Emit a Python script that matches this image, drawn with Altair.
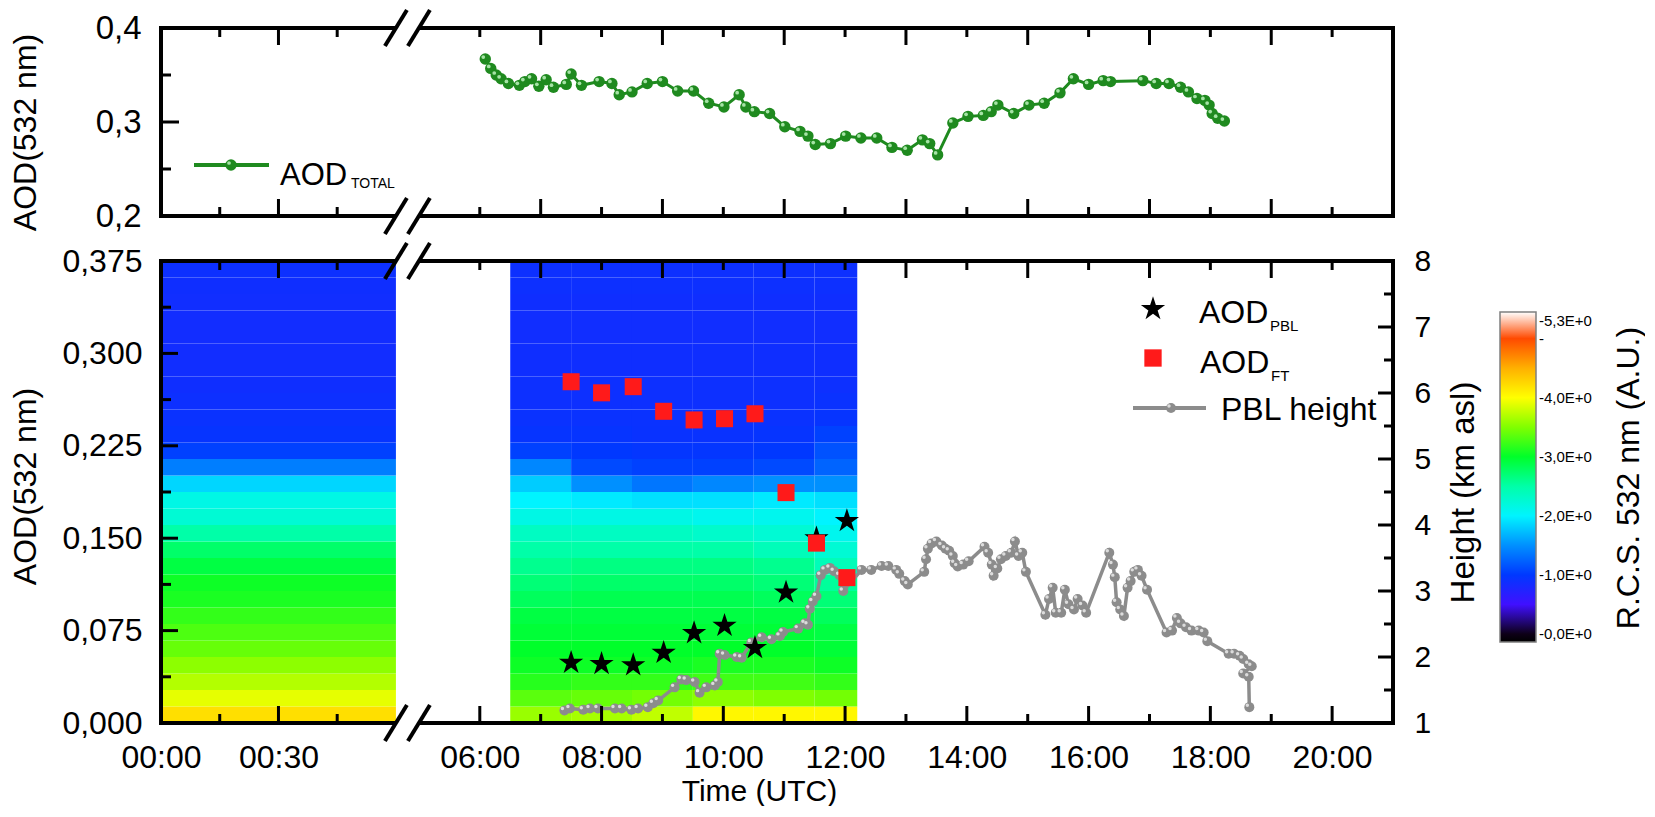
import altair as alt
import pandas as pd

FONT = "Liberation Sans"

# ---------------- data (time in decimal hours UTC) ----------------
AOD_TOTAL_T = [6.09, 6.18, 6.27, 6.35, 6.47, 6.65, 6.74, 6.85, 6.97, 7.09, 7.21,
               7.42, 7.50, 7.67, 7.96, 8.17, 8.29, 8.50, 8.75, 9.00,
               9.25, 9.51, 9.76, 10.01, 10.26, 10.37, 10.51, 10.76, 11.01, 11.26,
               11.39, 11.51, 11.76, 12.01, 12.26, 12.52, 12.77, 13.02, 13.27, 13.39,
               13.52, 13.77, 14.02, 14.27, 14.40, 14.51, 14.77, 15.02, 15.27, 15.53,
               15.75, 16.00, 16.24, 16.36, 16.89, 17.11, 17.32, 17.51, 17.64, 17.78,
               17.91, 17.98, 18.03, 18.12, 18.23]
AOD_TOTAL_V = [0.367, 0.357, 0.350, 0.346, 0.341, 0.339, 0.343, 0.346, 0.338, 0.345, 0.337,
               0.340, 0.351, 0.339, 0.343, 0.341, 0.329, 0.332, 0.341, 0.343,
               0.333, 0.333, 0.320, 0.316, 0.329, 0.316, 0.311, 0.309, 0.295, 0.290,
               0.285, 0.276, 0.277, 0.285, 0.283, 0.283, 0.273, 0.270, 0.281, 0.277,
               0.265, 0.299, 0.306, 0.307, 0.311, 0.318, 0.309, 0.318, 0.320, 0.331,
               0.346, 0.340, 0.344, 0.343, 0.344, 0.341, 0.341, 0.337, 0.332, 0.325,
               0.323, 0.318, 0.309, 0.304, 0.301]

PBL_T = [7.39, 7.48, 7.70, 7.81, 7.94, 8.22, 8.33, 8.49, 8.60, 8.76,
         8.85, 8.93, 9.20, 9.31, 9.39, 9.53, 9.61, 9.72, 9.86, 9.91,
         9.94, 10.02, 10.22, 10.30, 10.46, 10.63, 10.79, 10.93, 10.98, 11.23,
         11.34, 11.39, 11.42, 11.47, 11.53, 11.60, 11.67, 11.75, 11.82, 11.91,
         11.97, 12.27, 12.43, 12.60, 12.71, 12.84, 12.89, 12.98, 13.03, 13.30,
         13.33, 13.36, 13.42, 13.50, 13.59, 13.65, 13.71, 13.77, 13.80, 13.85,
         13.94, 14.03, 14.29, 14.35, 14.41, 14.44, 14.50, 14.56, 14.64, 14.73,
         14.79, 14.85, 14.91, 14.97, 15.29, 15.35, 15.41, 15.46, 15.55, 15.61,
         15.67, 15.76, 15.82, 15.90, 15.96, 16.34, 16.40, 16.43, 16.46, 16.52,
         16.58, 16.64, 16.69, 16.75, 16.81, 16.87, 16.96, 17.28, 17.37, 17.45,
         17.51, 17.60, 17.69, 17.81, 17.89, 17.95, 18.30, 18.39, 18.48, 18.54,
         18.63, 18.68, 18.54, 18.63, 18.64]
PBL_H = [1.19, 1.22, 1.20, 1.22, 1.22, 1.22, 1.22, 1.20, 1.22, 1.24,
         1.30, 1.34, 1.54, 1.66, 1.65, 1.62, 1.46, 1.54, 1.57, 1.62,
         2.05, 2.03, 2.00, 1.99, 2.22, 2.30, 2.27, 2.32, 2.38, 2.43,
         2.51, 2.49, 2.73, 2.84, 2.92, 3.24, 3.32, 3.35, 3.30, 3.24,
         3.00, 3.32, 3.32, 3.38, 3.38, 3.32, 3.26, 3.15, 3.10, 3.29,
         3.48, 3.64, 3.72, 3.75, 3.69, 3.64, 3.61, 3.53, 3.42, 3.37,
         3.40, 3.45, 3.67, 3.58, 3.40, 3.23, 3.34, 3.48, 3.53, 3.58,
         3.75, 3.53, 3.58, 3.29, 2.64, 2.88, 3.05, 2.67, 2.67, 3.02,
         2.80, 2.72, 2.88, 2.78, 2.67, 3.58, 3.40, 3.21, 2.83, 2.72,
         2.62, 3.05, 3.15, 3.29, 3.32, 3.23, 3.02, 2.37, 2.40, 2.59,
         2.51, 2.45, 2.40, 2.40, 2.37, 2.24, 2.05, 2.05, 2.02, 1.97,
         1.89, 1.86, 1.75, 1.70, 1.24]

LAYER_T = [7.50, 8.00, 8.52, 9.02, 9.52, 10.02, 10.52, 11.03, 11.53, 12.03]
AOD_PBL = [0.049, 0.048, 0.047, 0.057, 0.073, 0.079, 0.061, 0.106, 0.150, 0.164]
AOD_FT = [0.277, 0.268, 0.273, 0.253, 0.246, 0.247, 0.251, 0.187, 0.146, 0.118]

# lidar range corrected signal: columns (time spans) x height bins (km asl)
HEAT_T0 = [0.0, 6.5, 7.5, 8.5, 9.5, 10.5, 11.5]
HEAT_T1 = [1.0, 7.5, 8.5, 9.5, 10.5, 11.5, 12.2]
HEAT_H0 = [1.0, 1.25, 1.5, 1.75, 2.0, 2.25, 2.5, 2.75, 3.0, 3.25, 3.5, 3.75, 4.0, 4.25,
           4.5, 4.75, 5.0, 5.25, 5.5, 5.75, 6.0, 6.25, 6.5, 6.75, 7.0, 7.25, 7.5, 7.75]
HEAT_H1 = HEAT_H0[1:] + [8.0]
RCS_00 = [4.2, 3.9, 3.7, 3.55, 3.4, 3.3, 3.2, 3.1, 3.05, 2.9, 2.75, 2.5, 2.25, 2.15,
          1.85, 1.4, 1.05, 0.95, 0.92, 0.9, 0.88, 0.87, 0.86, 0.86, 0.86, 0.87, 0.88, 0.9]
RCS_07 = [3.6, 3.35, 3.15, 3.05, 3.0, 2.95, 2.9, 2.8, 2.7, 2.6, 2.5, 2.35, 2.15, 2.0,
          1.8, 1.45, 1.05, 0.95, 0.92, 0.9, 0.9, 0.88, 0.88, 0.87, 0.87, 0.88, 0.9, 0.9]
RCS_08 = [3.65, 3.4, 3.2, 3.05, 3.0, 2.95, 2.9, 2.85, 2.75, 2.65, 2.5, 2.35, 2.15, 1.95,
          1.5, 1.1, 1.0, 0.95, 0.92, 0.9, 0.9, 0.88, 0.88, 0.87, 0.87, 0.88, 0.9, 0.9]
RCS_09 = [3.75, 3.45, 3.2, 3.05, 3.0, 2.95, 2.9, 2.85, 2.75, 2.65, 2.5, 2.35, 2.15, 1.9,
          1.35, 1.05, 0.97, 0.93, 0.92, 0.9, 0.9, 0.88, 0.88, 0.87, 0.87, 0.88, 0.9, 0.9]
RCS_10 = [4.05, 3.55, 3.25, 3.1, 3.0, 2.95, 2.9, 2.85, 2.75, 2.65, 2.5, 2.3, 2.1, 1.9,
          1.45, 1.05, 0.97, 0.93, 0.92, 0.9, 0.9, 0.88, 0.88, 0.87, 0.87, 0.88, 0.9, 0.9]
RCS_11 = [4.05, 3.5, 3.25, 3.1, 3.0, 2.95, 2.9, 2.8, 2.7, 2.6, 2.4, 2.25, 2.1, 1.95,
          1.5, 1.1, 1.0, 0.95, 0.92, 0.9, 0.9, 0.88, 0.88, 0.87, 0.87, 0.88, 0.9, 0.9]
RCS_12 = [4.05, 3.45, 3.2, 3.05, 2.95, 2.9, 2.8, 2.7, 2.55, 2.4, 2.25, 2.1, 2.0, 1.9,
          1.5, 1.25, 1.15, 1.05, 0.95, 0.92, 0.9, 0.88, 0.88, 0.87, 0.87, 0.88, 0.9, 0.9]
HEAT_PROFILES = [RCS_00, RCS_07, RCS_08, RCS_09, RCS_10, RCS_11, RCS_12]

# colour bar of the lidar signal
RCS_STOPS = [-0.135, -0.005, 0.05, 0.5, 1.0, 1.5, 2.0, 2.5, 3.0, 3.5, 4.0, 4.5, 5.0, 5.27, 5.3, 5.45]
RCS_COLORS = ['#000000', '#000000', '#8a00ff', '#4010ff', '#0038ff', '#0090ff', '#00f4ff',
              '#00ffa8', '#00ff2a', '#80ff00', '#ffff00', '#ffb000', '#ff4a00', '#ff0000',
              '#ffffff', '#ffffff']
RCS_TICKS = [0, 1, 2, 3, 4, 5, 5.3]

# axis ticks / labels
TIME_LABEL_T = [0.0, 0.5, 6.0, 8.0, 10.0, 12.0, 14.0, 16.0, 18.0, 20.0]
TIME_LABELS = ['00:00', '00:30', '06:00', '08:00', '10:00', '12:00', '14:00', '16:00', '18:00', '20:00']
EVEN_H = [6, 8, 10, 12, 14, 16, 18, 20]
ODD_H = [7, 9, 11, 13, 15, 17, 19]
AOD_LABELS = [0.0, 0.075, 0.15, 0.225, 0.3, 0.375]
AOD_MINOR = [0.0375, 0.1125, 0.1875, 0.2625, 0.3375]
HEIGHT_LABELS = [1, 2, 3, 4, 5, 6, 7, 8]
HEIGHT_MINOR = [1.5, 2.5, 3.5, 4.5, 5.5, 6.5, 7.5]
TOP_LABELS = [0.2, 0.3, 0.4]
TOP_MINOR = [0.25, 0.35]

# ---------------- broken time axis: 00:00-01:00 | 05:00-21:00 ----------------
PX_H_LEFT = 235.0
PX_H_RIGHT = 60.9
GAP = 23.0


def bx(t):
    if t <= 1.0 + 1e-9:
        return t * PX_H_LEFT
    return PX_H_LEFT + GAP + (t - 5.0) * PX_H_RIGHT


W = 1232
HT = 188
HB = 462
XS = alt.Scale(domain=[0, bx(21.0)], nice=False, zero=False)
GREEN = '#1f8a1f'
GRAY = '#8c8c8c'
RED = '#ff1a1a'
STAR = ("M0,-1L0.2245,-0.309L0.9511,-0.309L0.3633,0.118L0.5878,0.809L0,0.382"
        "L-0.5878,0.809L-0.3633,0.118L-0.9511,-0.309L-0.2245,-0.309Z")


def lookup_expr(vals, labels):
    expr = "''"
    for v, l in zip(vals[::-1], labels[::-1]):
        expr = f"(abs(datum.value - {v:.3f}) < 0.5 ? '{l}' : {expr})"
    return expr


# ---- axes (the same object is given to every layer sharing the scale) ----
top_axis = alt.Axis(values=TOP_LABELS, labelExpr="replace(format(datum.value, '.1f'), '.', ',')",
                    domain=False, ticks=False, tickSize=0, grid=False, labelPadding=20,
                    labelFontSize=33, labelFlush=False, labelOverlap=False,
                    title='AOD(532 nm)', titleFontSize=32, titleFontWeight='normal',
                    titleAngle=270, titleX=-136, titleY=104, titleBaseline='middle', titleAlign='center')
x_axis = alt.Axis(values=[bx(t) for t in TIME_LABEL_T],
                  labelExpr=lookup_expr([bx(t) for t in TIME_LABEL_T], TIME_LABELS),
                  domain=False, ticks=False, tickSize=0, grid=False, labelPadding=19, labelFontSize=32,
                  labelFlush=False, labelOverlap=False, labelBound=False,
                  title='Time (UTC)', titleFontSize=30, titleFontWeight='normal',
                  titleX=598, titleY=77, titleAlign='center', titleBaseline='alphabetic')
h_axis = alt.Axis(orient='right', values=HEIGHT_LABELS, format='d', domain=False, ticks=False, tickSize=0,
                  grid=False, labelPadding=21, labelFontSize=30, labelFlush=False, labelOverlap=False,
                  title='Height (km asl)', titleFontSize=33, titleFontWeight='normal',
                  titleAngle=270, titleX=70, titleY=231, titleBaseline='middle', titleAlign='center')
a_axis = alt.Axis(orient='left', values=AOD_LABELS, labelExpr="replace(format(datum.value, '.3f'), '.', ',')",
                  domain=False, ticks=False, tickSize=0, grid=False, labelPadding=19, labelFontSize=32,
                  labelFlush=False, labelOverlap=False,
                  title='AOD(532 nm)', titleFontSize=32, titleFontWeight='normal',
                  titleAngle=270, titleX=-136, titleY=225, titleBaseline='middle', titleAlign='center')


def one():
    return alt.Chart(pd.DataFrame({'k': [0]}))


def hframe(y, xa):
    df = pd.DataFrame({'u0': [bx(0.0), bx(5.0)], 'u1': [bx(1.0), bx(21.0)]})
    return alt.Chart(df).mark_rule(color='black', strokeWidth=4).encode(
        x=alt.X('u0:Q', scale=XS, axis=xa), x2='u1:Q', y=alt.value(y))


def vframe(x, H):
    return one().mark_rule(color='black', strokeWidth=4).encode(
        x=alt.value(x), y=alt.value(-2), y2=alt.value(H + 2))


def xticks(hours, length, y, down, xa):
    df = pd.DataFrame({'u': [bx(t) for t in hours]})
    y2 = y + length if down else y - length
    return alt.Chart(df).mark_rule(color='black', strokeWidth=3).encode(
        x=alt.X('u:Q', scale=XS, axis=xa), y=alt.value(y), y2=alt.value(y2))


def yticks(vals, field, scale, ya, length, x, right):
    df = pd.DataFrame({field: vals})
    x2 = x - length if right else x + length
    return alt.Chart(df).mark_rule(color='black', strokeWidth=3).encode(
        y=alt.Y(f'{field}:Q', scale=scale, axis=ya), x=alt.value(x), x2=alt.value(x2))


def slashes(y, xa):
    df = pd.DataFrame({'a': [bx(1.0) - 11, bx(5.0) - 11], 'b': [bx(1.0) + 11, bx(5.0) + 11]})
    return alt.Chart(df).mark_rule(color='black', strokeWidth=4).encode(
        x=alt.X('a:Q', scale=XS, axis=xa), x2='b:Q', y=alt.value(y + 18), y2=alt.value(y - 18))


def text(s, x, y, size, angle=0, align='left', baseline='alphabetic'):
    kw = dict(text=s, fontSize=size, font=FONT, align=align, baseline=baseline, color='black')
    if angle:
        kw['angle'] = angle
    return one().mark_text(**kw).encode(x=alt.value(x), y=alt.value(y))


# ---------------- top panel: AOD total ----------------
top_df = pd.DataFrame({'u': [bx(t) for t in AOD_TOTAL_T], 'v': AOD_TOTAL_V})
YT = alt.Scale(domain=[0.2, 0.4], nice=False, zero=False)
NOX = None  # the top panel carries no time labels

g_line = alt.Chart(top_df).mark_line(color=GREEN, strokeWidth=3).encode(
    x=alt.X('u:Q', scale=XS, axis=NOX), y=alt.Y('v:Q', scale=YT, axis=top_axis))
g_pts = alt.Chart(top_df).mark_circle(color=GREEN, size=130, opacity=1).encode(
    x=alt.X('u:Q', scale=XS, axis=NOX), y=alt.Y('v:Q', scale=YT, axis=top_axis))
g_hi = alt.Chart(top_df).mark_circle(color='#a6e3a6', size=14, opacity=1, xOffset=-2, yOffset=-2).encode(
    x=alt.X('u:Q', scale=XS, axis=NOX), y=alt.Y('v:Q', scale=YT, axis=top_axis))

top_leg = [
    one().mark_rule(color=GREEN, strokeWidth=4).encode(x=alt.value(33), x2=alt.value(108), y=alt.value(137)),
    one().mark_circle(color=GREEN, size=130, opacity=1).encode(x=alt.value(70), y=alt.value(137)),
    one().mark_circle(color='#a6e3a6', size=14, opacity=1).encode(x=alt.value(68), y=alt.value(135)),
    text('AOD', 119, 157, 31),
    text('TOTAL', 190, 160, 14),
]
top = alt.layer(
    g_line, g_pts, g_hi, *top_leg,
    hframe(0, NOX), hframe(HT, NOX), vframe(0, HT), vframe(W, HT),
    xticks([0.5] + ODD_H, 17, 0, True, NOX), xticks([0.25, 0.75] + EVEN_H, 9, 0, True, NOX),
    xticks([0.5] + ODD_H, 17, HT, False, NOX), xticks([0.25, 0.75] + EVEN_H, 9, HT, False, NOX),
    yticks([0.3], 'v', YT, top_axis, 18, 0, False), yticks(TOP_MINOR, 'v', YT, top_axis, 10, 0, False),
    slashes(0, NOX), slashes(HT, NOX),
).properties(width=W, height=HT)

# ---------------- bottom panel ----------------
YA = alt.Scale(domain=[0, 0.375], nice=False, zero=False)
YH = alt.Scale(domain=[1, 8], nice=False, zero=False)
CS = alt.Scale(domain=RCS_STOPS, range=RCS_COLORS, interpolate='rgb', clamp=True)

heat_rows = []
for t0, t1, prof in zip(HEAT_T0, HEAT_T1, HEAT_PROFILES):
    for h0, h1, v in zip(HEAT_H0, HEAT_H1, prof):
        heat_rows.append({'u0': bx(t0), 'u1': bx(t1), 'h0': h0, 'h1': h1, 'rcs': v})
heat_df = pd.DataFrame(heat_rows)

legend = alt.Legend(type='gradient', orient='none', legendX=1339, legendY=284, direction='vertical',
                    gradientLength=330, gradientThickness=36, title=None, values=RCS_TICKS,
                    labelExpr="datum.value == 5 ? '-' : '-' + replace(format(datum.value, '.1f'), '.', ',') + 'E+0'",
                    labelFontSize=15, labelFont=FONT, labelOffset=3, labelOverlap=False,
                    gradientStrokeColor='#7f7f7f', gradientStrokeWidth=1.5, labelColor='black')

heat = alt.Chart(heat_df).mark_rect().encode(
    x=alt.X('u0:Q', scale=XS, axis=x_axis), x2='u1:Q',
    y=alt.Y('h0:Q', scale=YH, axis=h_axis), y2='h1:Q',
    fill=alt.Fill('rcs:Q', scale=CS, legend=legend))

pbl_df = pd.DataFrame({'u': [bx(t) for t in PBL_T], 'h': PBL_H, 'i': list(range(len(PBL_T)))})
p_line = alt.Chart(pbl_df).mark_line(color=GRAY, strokeWidth=3.5).encode(
    x=alt.X('u:Q', scale=XS, axis=x_axis), y=alt.Y('h:Q', scale=YH, axis=h_axis), order='i:Q')
p_pts = alt.Chart(pbl_df).mark_circle(color=GRAY, size=100, opacity=1).encode(
    x=alt.X('u:Q', scale=XS, axis=x_axis), y=alt.Y('h:Q', scale=YH, axis=h_axis))
p_hi = alt.Chart(pbl_df).mark_circle(color='#dcdcdc', size=12, opacity=1, xOffset=-2, yOffset=-2).encode(
    x=alt.X('u:Q', scale=XS, axis=x_axis), y=alt.Y('h:Q', scale=YH, axis=h_axis))

h_group = alt.layer(
    heat, p_line, p_pts, p_hi,
    yticks(HEIGHT_LABELS[1:-1], 'h', YH, h_axis, 15, W, True),
    yticks(HEIGHT_MINOR, 'h', YH, h_axis, 9, W, True),
)

lay_df = pd.DataFrame({'u': [bx(t) for t in LAYER_T], 'pbl': AOD_PBL, 'ft': AOD_FT})
stars = alt.Chart(lay_df).mark_point(shape=STAR, filled=True, color='black', size=650, opacity=1, strokeWidth=0).encode(
    x=alt.X('u:Q', scale=XS, axis=x_axis), y=alt.Y('pbl:Q', scale=YA, axis=a_axis))
squares = alt.Chart(lay_df).mark_point(shape='square', filled=True, color=RED, size=290, opacity=1, strokeWidth=0).encode(
    x=alt.X('u:Q', scale=XS, axis=x_axis), y=alt.Y('ft:Q', scale=YA, axis=a_axis))
a_group = alt.layer(
    stars, squares,
    yticks(AOD_LABELS[1:-1], 'pbl', YA, a_axis, 17, 0, False),
    yticks(AOD_MINOR, 'pbl', YA, a_axis, 10, 0, False),
)

bot_leg = [
    one().mark_point(shape=STAR, filled=True, color='black', size=650, opacity=1, strokeWidth=0).encode(
        x=alt.value(992), y=alt.value(48)),
    text('AOD', 1038, 62, 32), text('PBL', 1109, 69.5, 15),
    one().mark_point(shape='square', filled=True, color=RED, size=300, opacity=1, strokeWidth=0).encode(
        x=alt.value(992), y=alt.value(97)),
    text('AOD', 1039, 112, 32), text('FT', 1110, 119.5, 15),
    one().mark_rule(color=GRAY, strokeWidth=4).encode(x=alt.value(972), x2=alt.value(1045), y=alt.value(147)),
    one().mark_circle(color=GRAY, size=100, opacity=1).encode(x=alt.value(1010), y=alt.value(147)),
    one().mark_circle(color='#dcdcdc', size=12, opacity=1).encode(x=alt.value(1008), y=alt.value(145)),
    text('PBL height', 1060, 159, 32),
    text('R.C.S. 532 nm (A.U.)', 1468, 217, 32, angle=270, align='center', baseline='middle'),
]

bottom = alt.layer(
    h_group, a_group, *bot_leg,
    hframe(0, x_axis), hframe(HB, x_axis), vframe(0, HB), vframe(W, HB),
    xticks([0.5] + EVEN_H, 17, HB, False, x_axis), xticks([0.25, 0.75] + ODD_H, 9, HB, False, x_axis),
    xticks([0.5] + ODD_H, 17, 0, True, x_axis), xticks([0.25, 0.75] + EVEN_H, 9, 0, True, x_axis),
    slashes(0, x_axis), slashes(HB, x_axis),
).resolve_scale(y='independent').properties(width=W, height=HB)

chart = alt.vconcat(top, bottom, spacing=45, bounds='flush').properties(
    padding={'left': 0, 'top': 0, 'right': 0, 'bottom': 0}, background='white'
).configure_view(stroke=None).configure_axis(
    labelFont=FONT, titleFont=FONT, labelColor='black', titleColor='black'
).configure_legend(labelFont=FONT)

chart.save("out.html", embed_options={"renderer": "svg", "actions": False})
